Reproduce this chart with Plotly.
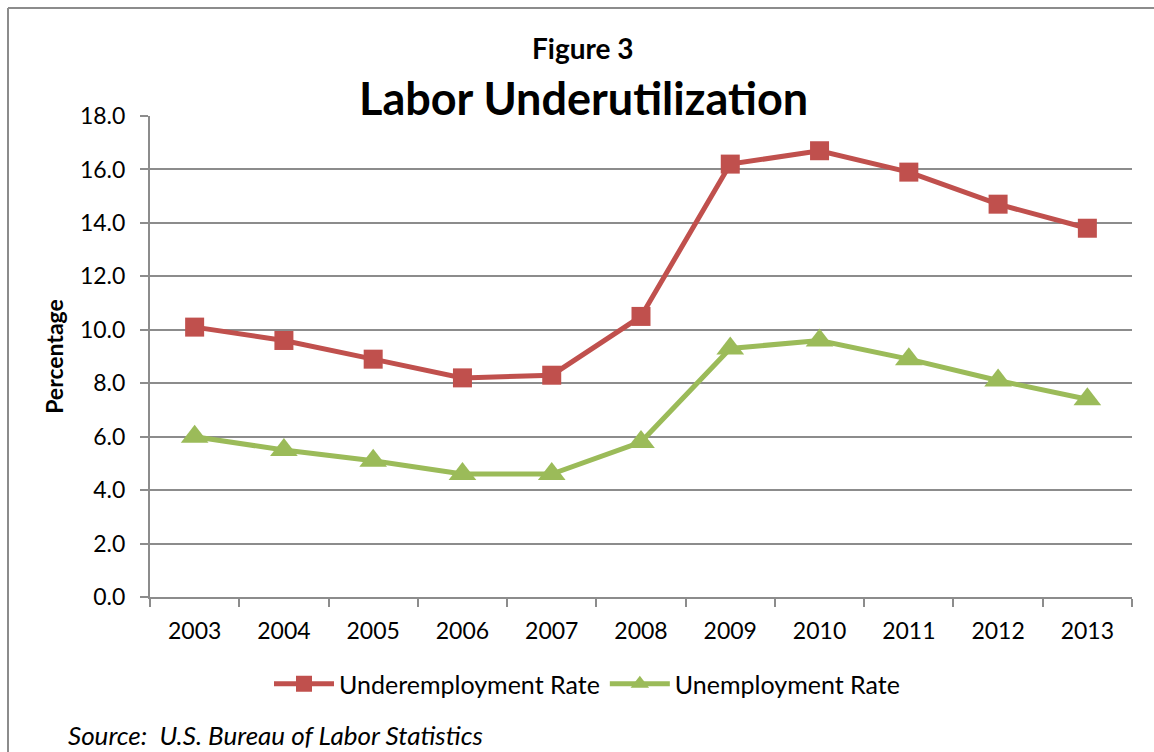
import plotly.graph_objects as go

years = ["2003", "2004", "2005", "2006", "2007", "2008", "2009", "2010", "2011", "2012", "2013"]
underemployment = [10.1, 9.6, 8.9, 8.2, 8.3, 10.5, 16.2, 16.7, 15.9, 14.7, 13.8]
unemployment = [6.0, 5.5, 5.1, 4.6, 4.6, 5.8, 9.3, 9.6, 8.9, 8.1, 7.4]

W, H = 1154, 752
L, R, T, B = 150, 22, 116, 155
PW, PH = W - L - R, H - T - B

def px(x):
    return (x - L) / PW

def py(y):
    return (H - B - y) / PH

FONT = "Lato"
RED = "#C0504D"
GREEN = "#9BBB59"
GRID = "#8C8C8C"

fig = go.Figure()
fig.add_trace(go.Scatter(
    x=years, y=underemployment, name="Underemployment Rate", mode="lines+markers",
    line=dict(color=RED, width=5), marker=dict(symbol="square", size=19, color=RED)))
fig.add_trace(go.Scatter(
    x=years, y=unemployment, name="Unemployment Rate", mode="lines+markers",
    line=dict(color=GREEN, width=5), marker=dict(symbol="triangle-up", size=24, color=GREEN)))

fig.update_layout(
    width=W, height=H, margin=dict(l=L, r=R, t=T, b=B),
    paper_bgcolor="white", plot_bgcolor="white",
    font=dict(family=FONT, size=23, color="black"),
    showlegend=True,
    legend=dict(orientation="h", x=px(587), xanchor="center", y=py(684), yanchor="middle",
                font=dict(size=25), itemwidth=60, bgcolor="rgba(0,0,0,0)"),
    xaxis=dict(type="category", range=[-0.5, 10.5], showline=True, linecolor=GRID, linewidth=2,
               ticks="outside", tickson="boundaries", ticklen=8, tickcolor=GRID, tickwidth=2,
               showgrid=False, tickfont=dict(size=23), ticklabelstandoff=12),
    yaxis=dict(range=[0, 18], dtick=2, tickformat=".1f", showline=True, linecolor=GRID,
               linewidth=2, ticks="outside", ticklen=8, tickcolor=GRID, tickwidth=2,
               showgrid=True, gridcolor=GRID, gridwidth=2, zeroline=False,
               tickfont=dict(size=23), ticklabelstandoff=10,
               title=dict(text="<b>Percentage</b>", font=dict(size=23), standoff=10)),
    annotations=[
        dict(text="<b>Figure 3</b>", x=px(583), y=py(48), xref="paper", yref="paper",
             showarrow=False, font=dict(size=28), xanchor="center", yanchor="middle"),
        dict(text="<b>Labor Underutilization</b>", x=px(583), y=py(98), xref="paper", yref="paper",
             showarrow=False, font=dict(size=45), xanchor="center", yanchor="middle"),
        dict(text="<i>Source:  U.S. Bureau of Labor Statistics</i>", x=px(66), y=py(735),
             xref="paper", yref="paper", showarrow=False, font=dict(size=26),
             xanchor="left", yanchor="middle"),
    ],
    shapes=[
        dict(type="line", xref="paper", yref="paper", x0=px(8), x1=px(1160), y0=py(8), y1=py(8),
             line=dict(color=GRID, width=2)),
        dict(type="line", xref="paper", yref="paper", x0=px(8), x1=px(8), y0=py(8), y1=py(760),
             line=dict(color=GRID, width=2)),
    ],
)

fig.write_html("out.html")
